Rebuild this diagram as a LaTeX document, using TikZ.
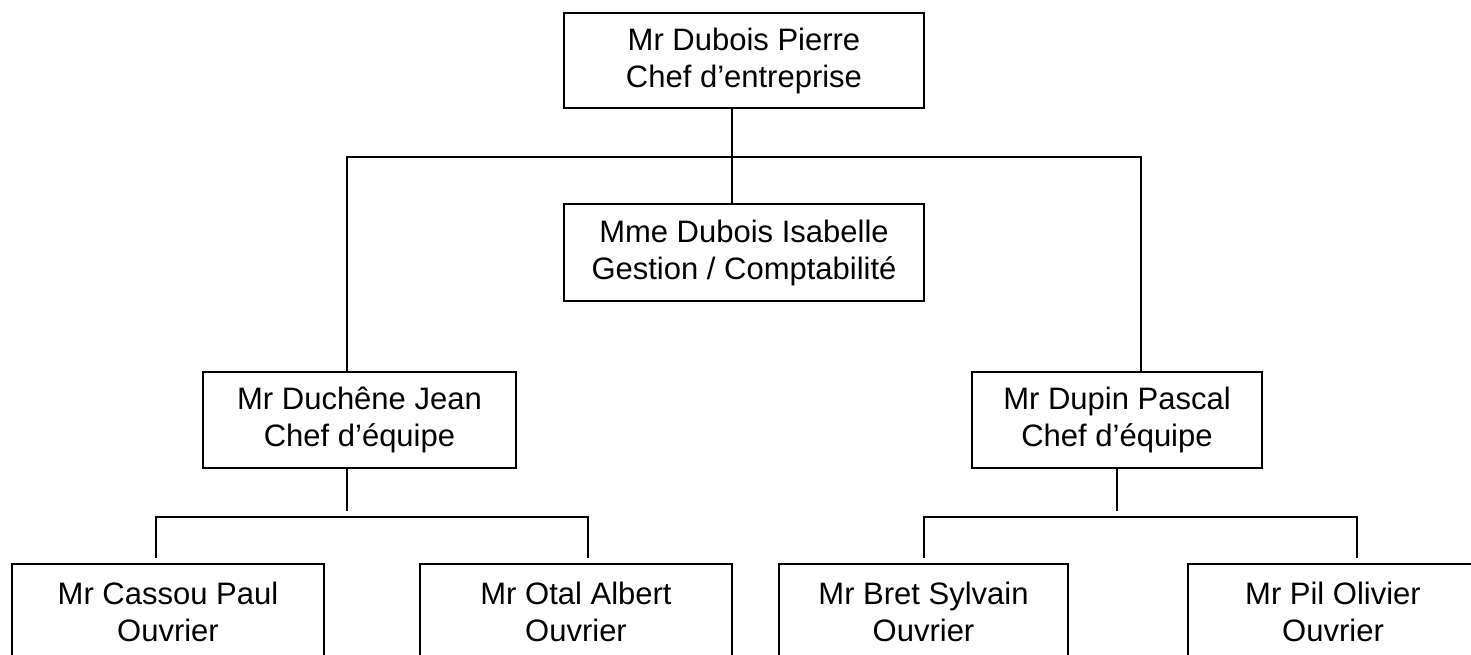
\documentclass[tikz,border=0pt]{standalone}
\usepackage{fontspec}
\setmainfont{Liberation Sans}
\begin{document}
\begin{tikzpicture}[x=1pt,y=-1pt,
  orgbox/.style={draw, line width=1.5pt, align=center, inner sep=0pt,
    font=\fontsize{31}{37}\selectfont},
  link/.style={line width=1.5pt}]
\useasboundingbox (0,0) rectangle (1471,655);
\clip (0,0) rectangle (1471,655);
\fill[white] (0,0) rectangle (1471,655);

\node[orgbox, minimum width=360pt, minimum height=95pt] (top) at (744,60.5) {Mr Dubois Pierre\\Chef d’entreprise};
\node[orgbox, minimum width=360pt, minimum height=97pt] (mid) at (744,252.5) {Mme Dubois Isabelle\\Gestion / Comptabilité};
\node[orgbox, minimum width=313pt, minimum height=96pt] (duch) at (359.5,420) {Mr Duchêne Jean\\Chef d’équipe};
\node[orgbox, minimum width=290pt, minimum height=96pt] (dupin) at (1117,420) {Mr Dupin Pascal\\Chef d’équipe};
\node[orgbox, minimum width=312pt, minimum height=96pt] (cassou) at (168,612) {Mr Cassou Paul\\Ouvrier};
\node[orgbox, minimum width=312pt, minimum height=96pt] (otal) at (576,612) {Mr Otal Albert\\Ouvrier};
\node[orgbox, minimum width=289pt, minimum height=96pt] (bret) at (923.5,612) {Mr Bret Sylvain\\Ouvrier};
\node[orgbox, minimum width=290pt, minimum height=96pt] (pil) at (1333,612) {Mr Pil Olivier\\Ouvrier};

\coordinate (vx) at (732,0);
\coordinate (hl) at (347,157);
\coordinate (hr) at (1141,157);
\coordinate (bl) at (347,517);
\coordinate (br) at (1117,517);
\coordinate (c1) at (156,517);
\coordinate (c2) at (588,517);
\coordinate (c3) at (924,517);
\coordinate (c4) at (1357,517);

\draw[link] (top.south -| vx) -- (mid.north -| vx);
\draw[link] (duch.north -| hl) -- (hl) -- (hr) -- (dupin.north -| hr);
\draw[link, shorten >=6pt] (duch.south -| bl) -- (bl);
\draw[link, shorten >=6pt] (dupin.south -| br) -- (br);
\draw[link, shorten <=5pt, shorten >=5pt] (cassou.north -| c1) -- (c1) -- (c2) -- (otal.north -| c2);
\draw[link, shorten <=5pt, shorten >=5pt] (bret.north -| c3) -- (c3) -- (c4) -- (pil.north -| c4);
\end{tikzpicture}
\end{document}
